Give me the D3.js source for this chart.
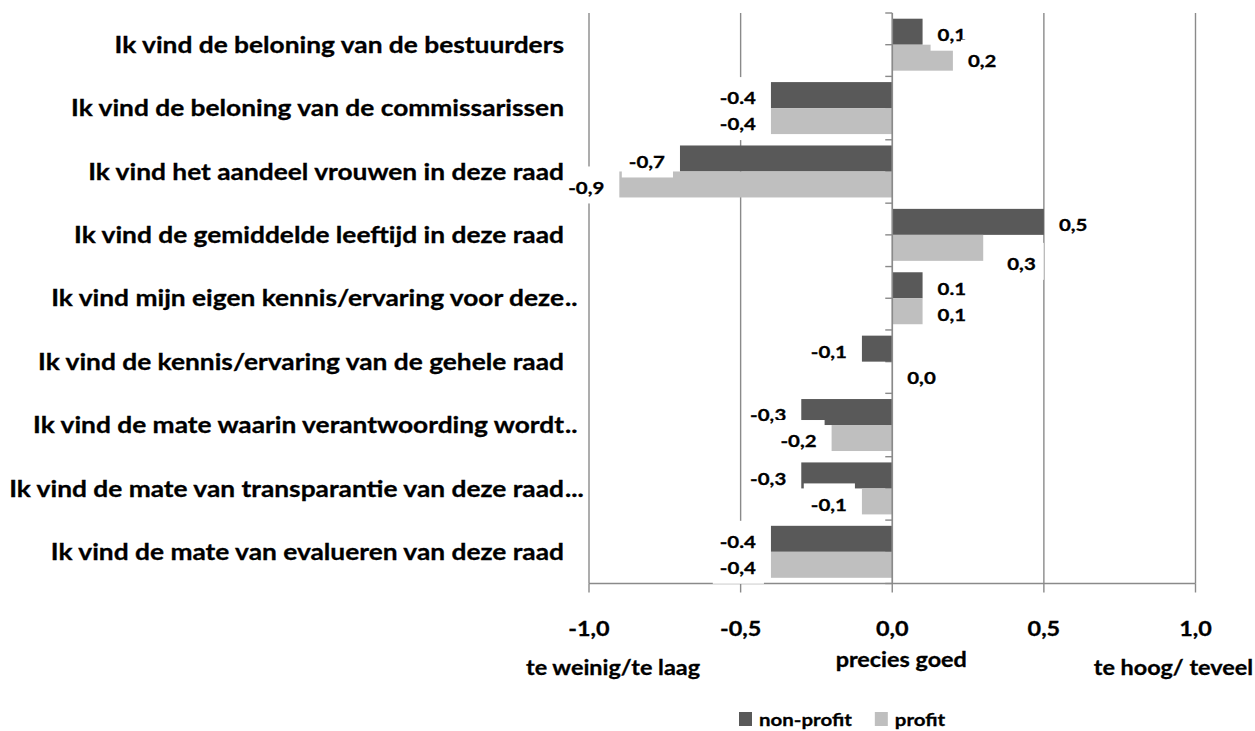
<!DOCTYPE html>
<html>
<head>
<meta charset="utf-8">
<script src="https://cdn.jsdelivr.net/npm/d3@7"></script>
<style>
  body { margin: 0; background: #fff; }
  svg text { font-family: Lato, "Liberation Sans", sans-serif; font-weight: bold; fill: #000;
             stroke: #000; stroke-width: 0.3px; }
</style>
</head>
<body>
<div class="container"></div>
<script>
'use strict';

// Chart data
const categories = [
  "Ik vind de beloning van de bestuurders",
  "Ik vind de beloning van de commissarissen",
  "Ik vind het aandeel vrouwen in deze raad",
  "Ik vind de gemiddelde leeftijd in deze raad",
  "Ik vind mijn eigen kennis/ervaring voor deze..",
  "Ik vind de kennis/ervaring van de gehele raad",
  "Ik vind de mate waarin verantwoording wordt..",
  "Ik vind de mate van transparantie van deze raad...",
  "Ik vind de mate van evalueren van deze raad"
];
const nonProfit = [0.1, -0.4, -0.7, 0.5, 0.1, -0.1, -0.3, -0.3, -0.4];
const profit = [0.2, -0.4, -0.9, 0.3, 0.1, 0.0, -0.2, -0.1, -0.4];
// the labels as they are printed in the chart (mixed comma / point)
const nonProfitLabels = ["0,1", "-0.4", "-0,7", "0,5", "0.1", "-0,1", "-0,3", "-0,3", "-0.4"];
const profitLabels = ["0,2", "-0,4", "-0,9", "0,3", "0,1", "0,0", "-0,2", "-0,1", "-0,4"];
const seriesNames = ["non-profit", "profit"];
const xTicks = [-1, -0.5, 0, 0.5, 1];
const xTickLabels = ["-1,0", "-0,5", "0,0", "0,5", "1,0"];
const scaleWords = ["te weinig/te laag", "precies goed", "te hoog/ teveel"];

const colors = ["#595959", "#bfbfbf"];
const gridColor = "#8a8a8a";

const width = 1255;
const height = 731;
// the original picture is stretched sideways, so is the text here
const SX = 1.17;

const svg = d3.select("div.container").append("svg")
    .attr("width", width)
    .attr("height", height);

// put a text at (px, py) with the sideways stretch
function placeText(sel, px, py) {
  return sel.attr("transform", "translate(" + px + "," + py + ") scale(" + SX + ",1)");
}

const x = d3.scaleLinear().domain([-1, 1]).range([589, 1195.5]);
const y = d3.scaleBand().domain(d3.range(categories.length))
    .range([13, 583.5]).paddingInner(0.18).paddingOuter(0.09);
const ySub = d3.scaleBand().domain([0, 1]).range([0, y.bandwidth()]);

const yTop = y.range()[0], yBottom = y.range()[1];

// vertical gridlines (the -1 one doubles as the left frame)
svg.append("g").selectAll("line")
  .data(xTicks.filter(d => d !== 0))
  .join("line")
    .attr("x1", d => x(d)).attr("x2", d => x(d))
    .attr("y1", yTop).attr("y2", yBottom)
    .attr("stroke", gridColor).attr("stroke-width", 1.4);

// category-axis tick marks, every half step
const step = y.step();
svg.append("g").selectAll("line")
  .data(d3.range(categories.length * 2 + 1))
  .join("line")
    .attr("x1", x(0) - 7).attr("x2", x(0))
    .attr("y1", i => yTop + i * step / 2).attr("y2", i => yTop + i * step / 2)
    .attr("stroke", gridColor).attr("stroke-width", 1.4);

// bars
const series = [nonProfit, profit];
series.forEach((vals, s) => {
  svg.append("g").selectAll("rect")
    .data(vals)
    .join("rect")
      .attr("x", d => x(Math.min(0, d)))
      .attr("width", d => Math.abs(x(d) - x(0)))
      .attr("y", (d, i) => y(i) + ySub(s))
      .attr("height", ySub.bandwidth())
      .attr("fill", colors[s]);
});

// axes lines on top of the bars
svg.append("line")
    .attr("x1", x(0)).attr("x2", x(0)).attr("y1", yTop).attr("y2", yBottom)
    .attr("stroke", gridColor).attr("stroke-width", 1.7);
svg.append("line")
    .attr("x1", x(-1)).attr("x2", x(1)).attr("y1", yBottom).attr("y2", yBottom)
    .attr("stroke", gridColor).attr("stroke-width", 1.7);
svg.append("g").selectAll("line")
  .data(xTicks)
  .join("line")
    .attr("x1", d => x(d)).attr("x2", d => x(d))
    .attr("y1", yBottom).attr("y2", yBottom + 9)
    .attr("stroke", gridColor).attr("stroke-width", 1.4);

// data labels with white boxes, drawn series by series;
// the hand-typed ones (with a point) sit on top of the rest
const labelSets = [nonProfitLabels, profitLabels];
// one label that was dragged away from its bar in the original
const nudge = { "1-3": [9, 13] };
const labelItems = [];
series.forEach((vals, s) => {
  vals.forEach((v, i) => labelItems.push({ s: s, i: i, v: v, text: labelSets[s][i] }));
});
const typed = d => d.text.indexOf(".") >= 0 ? 1 : 0;
labelItems.sort((a, b) => typed(a) - typed(b));

labelItems.forEach(d => {
  const cy = y(d.i) + ySub(d.s) + ySub.bandwidth() / 2 + 3;
  const off = nudge[d.s + "-" + d.i] || [0, 0];
  const pos = d.v >= 0;
  const lx = pos ? x(d.v) + 15 + off[0] : x(d.v) - 15 + off[0];
  const g = svg.append("g");
  const box = g.append("rect").attr("fill", "#fff");
  const t = g.append("text")
      .attr("dy", "0.36em")
      .attr("text-anchor", pos ? "start" : "end")
      .style("font-size", "17.5px")
      .text(d.text);
  placeText(t, lx, cy + off[1]);
  const w = t.node().getComputedTextLength() * SX;
  const left = pos ? lx : lx - w;
  box.attr("x", left - 7).attr("width", w + 15)
     .attr("y", cy + off[1] - 21).attr("height", 37);
});

// category labels, trailing dots hang past the right edge
const labelRight = 564;
categories.forEach((c, i) => {
  const m = c.match(/^(.*?)(\.*)$/);
  const cy = y(i) + y.bandwidth() / 2;
  placeText(svg.append("text"), labelRight, cy)
      .attr("dy", "0.36em")
      .attr("text-anchor", "end")
      .style("font-size", "22.5px")
      .text(m[1]);
  if (m[2]) {
    placeText(svg.append("text"), labelRight + 1, cy)
        .attr("dy", "0.36em")
        .style("font-size", "22.5px")
        .text(m[2]);
  }
});

// x tick labels
xTicks.forEach((d, i) => {
  placeText(svg.append("text"), x(d), 636)
      .attr("text-anchor", "middle")
      .style("font-size", "20px")
      .text(xTickLabels[i]);
});

// scale words under the axis
placeText(svg.append("text"), 700, 675)
    .attr("text-anchor", "end")
    .style("font-size", "20px").text(scaleWords[0]);
placeText(svg.append("text"), x(0) + 9, 667)
    .attr("text-anchor", "middle")
    .style("font-size", "20px").text(scaleWords[1]);
placeText(svg.append("text"), width - 2, 675)
    .attr("text-anchor", "end")
    .style("font-size", "20px").text(scaleWords[2]);

// legend
const legend = svg.append("g").attr("transform", "translate(739,712)");
let lx = 0;
seriesNames.forEach((name, s) => {
  legend.append("rect").attr("x", lx).attr("y", 0)
      .attr("width", 13).attr("height", 14).attr("fill", colors[s]);
  const t = placeText(legend.append("text"), lx + 20, 14)
      .style("font-size", "17.5px").text(name);
  lx += 20 + t.node().getComputedTextLength() * SX + 23;
});
</script>
</body>
</html>
